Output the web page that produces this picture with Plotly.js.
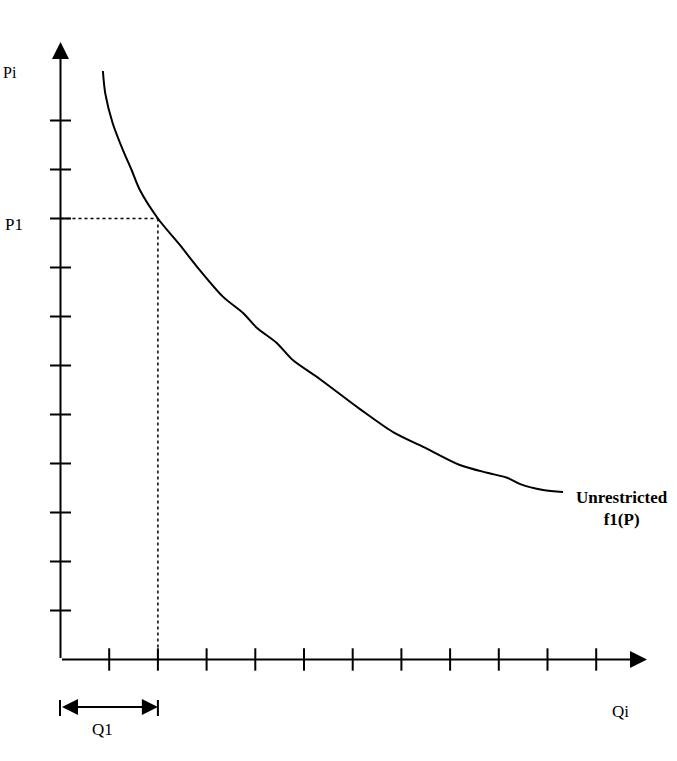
<!DOCTYPE html>
<html>
<head>
<meta charset="utf-8">
<script src="https://cdn.plot.ly/plotly-3.0.1.min.js"></script>
<style>html,body{margin:0;padding:0;background:#fff;}#chart{width:677px;height:761px;}</style>
</head>
<body>
<div id="chart"></div>
<script>
// Quantity (Qi) and price (Pi) along the unrestricted demand curve f1(P)
const qValues = [0.87, 0.92, 1.07, 1.28, 1.46, 1.63, 2.00, 2.45, 2.80, 3.34, 3.75, 4.03, 4.44, 4.77, 5.33, 6.15, 6.83, 7.53, 8.20, 8.76, 9.17, 9.44, 9.91, 10.32];
const pValues = [12.01, 11.55, 10.95, 10.40, 9.99, 9.58, 9.00, 8.46, 8.02, 7.40, 7.07, 6.77, 6.46, 6.11, 5.72, 5.11, 4.64, 4.30, 3.97, 3.81, 3.71, 3.58, 3.46, 3.42];
const xTicks = [1, 2, 3, 4, 5, 6, 7, 8, 9, 10, 11];
const yTicks = [1, 2, 3, 4, 5, 6, 7, 8, 9, 10, 11];
const q1 = 2;
const p1 = 9;
const curveLines = ['Unrestricted', 'f1(P)'];

const serif = 'Liberation Serif, Times New Roman, serif';
const W = 677, H = 761;
const px = v => v / W;
const py = v => 1 - v / H;

const traces = [
  {x: qValues, y: pValues, mode: 'lines', line: {color: '#000', width: 2, shape: 'spline', smoothing: 0.8}, hoverinfo: 'skip'},
  {x: [0, q1], y: [p1, p1], mode: 'lines', line: {color: '#000', width: 1.5, dash: 'dot'}, hoverinfo: 'skip'},
  {x: [q1, q1], y: [p1, 0], mode: 'lines', line: {color: '#000', width: 1.5, dash: 'dot'}, hoverinfo: 'skip'},
  {x: xTicks, y: xTicks.map(() => 0), mode: 'markers', marker: {symbol: 'line-ns-open', size: 16, color: '#000', line: {color: '#000', width: 2}}, hoverinfo: 'skip'},
  {x: yTicks.map(() => 0), y: yTicks, mode: 'markers', marker: {symbol: 'line-ew-open', size: 15, color: '#000', line: {color: '#000', width: 2}}, hoverinfo: 'skip'}
];

const ox = 60.5, oy = 659.5, sx = 48.7, sy = 49;
const layout = {
  width: W, height: H,
  margin: {l: 0, r: 0, t: 0, b: 0},
  paper_bgcolor: '#fff', plot_bgcolor: '#fff',
  showlegend: false,
  xaxis: {range: [-ox / sx, (W - ox) / sx], visible: false, fixedrange: true},
  yaxis: {range: [(oy - H) / sy, oy / sy], visible: false, fixedrange: true},
  shapes: [
    {type: 'line', xref: 'paper', yref: 'paper', x0: px(60), x1: px(60), y0: py(700), y1: py(716), line: {color: '#000', width: 2}},
    {type: 'line', xref: 'x', yref: 'paper', x0: q1, x1: q1, y0: py(700), y1: py(716), line: {color: '#000', width: 2}}
  ],
  annotations: [
    {x: 0, y: (oy - 42) / sy, ax: 0, ay: 0, xref: 'x', yref: 'y', axref: 'x', ayref: 'y', text: '', showarrow: true, arrowhead: 2, arrowwidth: 2, arrowsize: 1.7, arrowcolor: '#000'},
    {x: (647 - ox) / sx, y: 0, ax: 0, ay: 0, xref: 'x', yref: 'y', axref: 'x', ayref: 'y', text: '', showarrow: true, arrowhead: 2, arrowwidth: 2, arrowsize: 1.7, arrowcolor: '#000'},
    {x: q1, y: (oy - 707) / sy, ax: 0, ay: (oy - 707) / sy, xref: 'x', yref: 'y', axref: 'x', ayref: 'y', text: '', showarrow: true, arrowhead: 2, startarrowhead: 2, arrowside: 'end+start', arrowwidth: 2, arrowsize: 1.6, startarrowsize: 1.6, arrowcolor: '#000'},
    {x: px(1), y: py(72), xref: 'paper', yref: 'paper', xanchor: 'left', yanchor: 'middle', text: 'Pi', showarrow: false, font: {family: serif, size: 16, color: '#000'}},
    {x: px(14), y: py(224), xref: 'paper', yref: 'paper', xanchor: 'center', yanchor: 'middle', text: 'P1', showarrow: false, font: {family: serif, size: 17, color: '#000'}},
    {x: px(102), y: py(729), xref: 'paper', yref: 'paper', xanchor: 'center', yanchor: 'middle', text: 'Q1', showarrow: false, font: {family: serif, size: 17, color: '#000'}},
    {x: px(620), y: py(711), xref: 'paper', yref: 'paper', xanchor: 'center', yanchor: 'middle', text: 'Qi', showarrow: false, font: {family: serif, size: 17, color: '#000'}},
    {x: px(622), y: py(508), xref: 'paper', yref: 'paper', xanchor: 'center', yanchor: 'middle', text: curveLines.map(s => '<b>' + s + '</b>').join('<br>'), showarrow: false, align: 'center', font: {family: serif, size: 17, color: '#000'}}
  ]
};

Plotly.newPlot('chart', traces, layout, {displayModeBar: false, staticPlot: true});
</script>
</body>
</html>
